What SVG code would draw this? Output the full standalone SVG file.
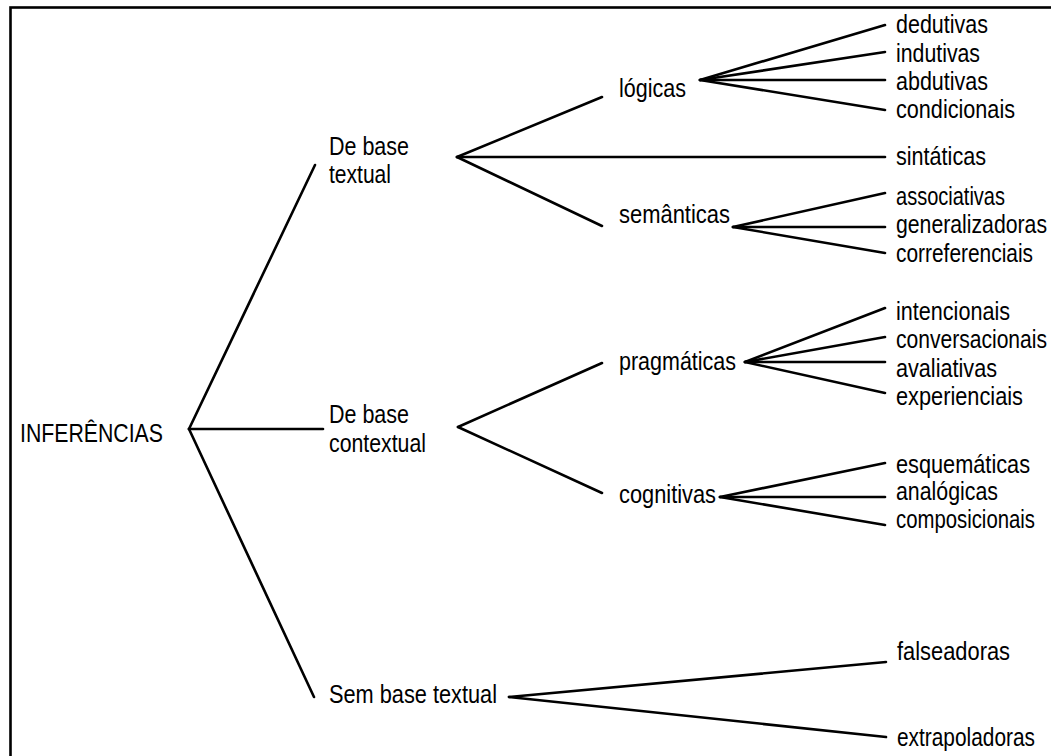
<svg xmlns="http://www.w3.org/2000/svg" width="1051" height="756" viewBox="0 0 1051 756">
<style>
text{font-family:"Liberation Sans",Arial,sans-serif;font-size:25px;fill:#000}
.c line{stroke:#000;stroke-width:2.6;stroke-linecap:round}
</style>
<rect x="0" y="0" width="1051" height="756" fill="#fff"/>
<rect x="10.5" y="7.5" width="1060" height="770" fill="none" stroke="#000" stroke-width="2.6"/>
<g id="connectors" class="c">
<line x1="189" y1="429" x2="315" y2="165"/>
<line x1="189" y1="429" x2="323" y2="429"/>
<line x1="189" y1="429" x2="314" y2="697"/>
<line x1="457" y1="157" x2="602" y2="97"/>
<line x1="457" y1="157" x2="885" y2="157"/>
<line x1="457" y1="157" x2="602" y2="226"/>
<line x1="700" y1="80" x2="885" y2="25"/>
<line x1="700" y1="80" x2="885" y2="52"/>
<line x1="700" y1="80" x2="885" y2="80"/>
<line x1="700" y1="80" x2="885" y2="110"/>
<line x1="733" y1="227" x2="885" y2="193"/>
<line x1="733" y1="227" x2="885" y2="227"/>
<line x1="733" y1="227" x2="885" y2="253"/>
<line x1="458" y1="427" x2="602" y2="363"/>
<line x1="458" y1="427" x2="602" y2="493"/>
<line x1="745" y1="362" x2="885" y2="308"/>
<line x1="745" y1="362" x2="885" y2="337"/>
<line x1="745" y1="362" x2="885" y2="362"/>
<line x1="745" y1="362" x2="885" y2="393"/>
<line x1="720" y1="497" x2="885" y2="463"/>
<line x1="720" y1="497" x2="885" y2="497"/>
<line x1="720" y1="497" x2="885" y2="525"/>
<line x1="509" y1="697" x2="886" y2="662"/>
<line x1="509" y1="697" x2="886" y2="737"/>
</g>
<g id="inferencias"><text x="20" y="442" textLength="143" lengthAdjust="spacingAndGlyphs">INFERÊNCIAS</text></g>
<g id="base-textual"><text x="329" y="155" textLength="80" lengthAdjust="spacingAndGlyphs">De base</text><text x="329" y="183" textLength="62" lengthAdjust="spacingAndGlyphs">textual</text></g>
<g id="base-contextual"><text x="329" y="423" textLength="80" lengthAdjust="spacingAndGlyphs">De base</text><text x="329" y="452" textLength="97" lengthAdjust="spacingAndGlyphs">contextual</text></g>
<g id="sem-base"><text x="329" y="703" textLength="168" lengthAdjust="spacingAndGlyphs">Sem base textual</text></g>
<g id="logicas"><text x="619" y="97" textLength="67" lengthAdjust="spacingAndGlyphs">lógicas</text></g>
<g id="semanticas"><text x="619" y="223" textLength="111" lengthAdjust="spacingAndGlyphs">semânticas</text></g>
<g id="pragmaticas"><text x="619" y="370" textLength="117" lengthAdjust="spacingAndGlyphs">pragmáticas</text></g>
<g id="cognitivas"><text x="619" y="503" textLength="97" lengthAdjust="spacingAndGlyphs">cognitivas</text></g>
<g id="dedutivas"><text x="896" y="33" textLength="92" lengthAdjust="spacingAndGlyphs">dedutivas</text></g>
<g id="indutivas"><text x="896" y="62" textLength="84" lengthAdjust="spacingAndGlyphs">indutivas</text></g>
<g id="abdutivas"><text x="896" y="90" textLength="92" lengthAdjust="spacingAndGlyphs">abdutivas</text></g>
<g id="condicionais"><text x="896" y="118" textLength="119" lengthAdjust="spacingAndGlyphs">condicionais</text></g>
<g id="sintaticas"><text x="896" y="165" textLength="90" lengthAdjust="spacingAndGlyphs">sintáticas</text></g>
<g id="associativas"><text x="896" y="205" textLength="109" lengthAdjust="spacingAndGlyphs">associativas</text></g>
<g id="generalizadoras"><text x="896" y="233" textLength="151" lengthAdjust="spacingAndGlyphs">generalizadoras</text></g>
<g id="correferenciais"><text x="896" y="262" textLength="137" lengthAdjust="spacingAndGlyphs">correferenciais</text></g>
<g id="intencionais"><text x="896" y="320" textLength="114" lengthAdjust="spacingAndGlyphs">intencionais</text></g>
<g id="conversacionais"><text x="896" y="348" textLength="151" lengthAdjust="spacingAndGlyphs">conversacionais</text></g>
<g id="avaliativas"><text x="896" y="377" textLength="101" lengthAdjust="spacingAndGlyphs">avaliativas</text></g>
<g id="experienciais"><text x="896" y="405" textLength="127" lengthAdjust="spacingAndGlyphs">experienciais</text></g>
<g id="esquematicas"><text x="896" y="473" textLength="134" lengthAdjust="spacingAndGlyphs">esquemáticas</text></g>
<g id="analogicas"><text x="896" y="500" textLength="102" lengthAdjust="spacingAndGlyphs">analógicas</text></g>
<g id="composicionais"><text x="896" y="528" textLength="139" lengthAdjust="spacingAndGlyphs">composicionais</text></g>
<g id="falseadoras"><text x="897" y="660" textLength="113" lengthAdjust="spacingAndGlyphs">falseadoras</text></g>
<g id="extrapoladoras"><text x="897" y="746" textLength="138" lengthAdjust="spacingAndGlyphs">extrapoladoras</text></g>
</svg>
